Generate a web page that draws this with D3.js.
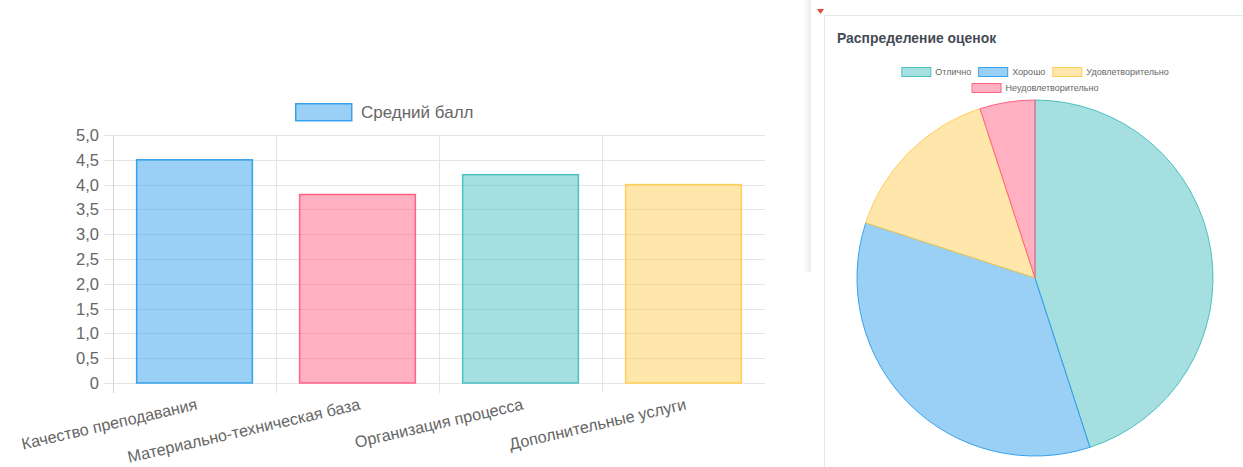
<!DOCTYPE html>
<html>
<head>
<meta charset="utf-8">
<script src="https://cdn.jsdelivr.net/npm/d3@7"></script>
<style>
  html, body { margin: 0; padding: 0; background: #fff; }
  svg { display: block; }
  text { font-family: "Liberation Sans", Arial, sans-serif; }
</style>
</head>
<body>
<div id="chart"></div>
<script>
// bar chart data
const categories = ['Качество преподавания', 'Материально-техническая база', 'Организация процесса', 'Дополнительные услуги'];
const avgScores = [4.5, 3.8, 4.2, 4.0];
const yTicks = [0, 0.5, 1, 1.5, 2, 2.5, 3, 3.5, 4, 4.5, 5];
const barSeriesName = 'Средний балл';

// pie chart data
const grades = ['Отлично', 'Хорошо', 'Удовлетворительно', 'Неудовлетворительно'];
const gradeShares = [45, 35, 15, 5];
const pieTitle = 'Распределение оценок';

const colors = {
  blue: 'rgb(54,162,235)', pink: 'rgb(255,99,132)',
  teal: 'rgb(75,192,192)', yellow: 'rgb(255,206,86)'
};
const barColors = [colors.blue, colors.pink, colors.teal, colors.yellow];
const pieColors = [colors.teal, colors.blue, colors.yellow, colors.pink];
const fade = c => c.replace('rgb', 'rgba').replace(')', ',0.5)');

const width = 1243, height = 467;
const svg = d3.select('#chart').append('svg')
  .attr('width', width).attr('height', height);

// ---------- bar chart ----------
const margin = { top: 135, right: 478, bottom: 84, left: 113 };

const x = d3.scaleBand()
  .domain(categories)
  .range([margin.left, width - margin.right]);

const y = d3.scaleLinear()
  .domain([0, 5])
  .range([height - margin.bottom, margin.top]);

const grid = svg.append('g');
// horizontal grid + left ticks
grid.selectAll('line.h')
  .data(yTicks)
  .join('line')
  .attr('x1', margin.left - 9).attr('x2', width - margin.right)
  .attr('y1', d => Math.round(y(d)) + 0.5).attr('y2', d => Math.round(y(d)) + 0.5)
  .attr('stroke', '#e5e5e5');

// vertical grid lines between categories
grid.selectAll('line.v')
  .data(categories)
  .join('line')
  .attr('x1', d => Math.round(x(d)) + 0.5).attr('x2', d => Math.round(x(d)) + 0.5)
  .attr('y1', margin.top).attr('y2', y(0) + 10)
  .attr('stroke', (d, i) => i === 0 ? '#d4d4d4' : '#e5e5e5');

svg.append('g')
  .selectAll('text')
  .data(yTicks)
  .join('text')
  .attr('x', margin.left - 14)
  .attr('y', d => y(d))
  .attr('dy', '0.36em')
  .attr('text-anchor', 'end')
  .attr('font-size', 16.5)
  .attr('fill', '#666')
  .text(d => d === 0 ? '0' : d3.format('.1f')(d).replace('.', ','));

const bw = x.bandwidth() * 0.71;
svg.append('g')
  .selectAll('rect')
  .data(avgScores)
  .join('rect')
  .attr('x', (d, i) => x(categories[i]) + (x.bandwidth() - bw) / 2)
  .attr('y', d => y(d))
  .attr('width', bw)
  .attr('height', d => y(0) - y(d))
  .attr('fill', (d, i) => fade(barColors[i]))
  .attr('stroke', (d, i) => barColors[i])
  .attr('stroke-width', 1.5);

// rotated category labels
svg.append('g')
  .selectAll('text')
  .data(categories)
  .join('text')
  .attr('transform', d => `translate(${x(d) + x.bandwidth() / 2 + 1},${y(0) + 15}) rotate(-13)`)
  .attr('dy', '0.71em')
  .attr('text-anchor', 'end')
  .attr('font-size', 16.2)
  .attr('fill', '#666')
  .text(d => d);

// legend
const lg = svg.append('g').attr('transform', 'translate(295,103)');
lg.append('rect')
  .attr('x', 0.75).attr('y', 0.75).attr('width', 56).attr('height', 17)
  .attr('fill', fade(colors.blue)).attr('stroke', colors.blue).attr('stroke-width', 1.5);
lg.append('text')
  .attr('x', 66).attr('y', 9).attr('dy', '0.36em')
  .attr('font-size', 17).attr('fill', '#666')
  .text(barSeriesName);

// ---------- left card shadow + pie card ----------
const defs = svg.append('defs');
const sg = defs.append('linearGradient').attr('id', 'sh');
sg.append('stop').attr('offset', 0).attr('stop-color', '#fff');
sg.append('stop').attr('offset', 1).attr('stop-color', '#ececec');
svg.append('rect').attr('x', 803).attr('y', 0).attr('width', 8).attr('height', 272).attr('fill', 'url(#sh)');

svg.append('rect')
  .attr('x', 824.5).attr('y', 15.5).attr('width', 460).attr('height', 470)
  .attr('fill', '#fff').attr('stroke', '#e3e6ec');

svg.append('path')
  .attr('d', 'M817,9 L824,9 L820.5,14 Z')
  .attr('fill', '#e74a3b');

svg.append('text')
  .attr('x', 837).attr('y', 43)
  .attr('font-family', '"Open Sans", sans-serif')
  .attr('font-weight', 600)
  .attr('font-size', 13.9)
  .attr('fill', '#454b55')
  .text(pieTitle);

// pie
const cx = 1035, cy = 278, r = 178;
const pie = d3.pie().sort(null).value(d => d);
const arc = d3.arc().innerRadius(0).outerRadius(r);
svg.append('g')
  .attr('transform', `translate(${cx},${cy})`)
  .selectAll('path')
  .data(pie(gradeShares))
  .join('path')
  .attr('d', arc)
  .attr('fill', (d, i) => fade(pieColors[i]))
  .attr('stroke', (d, i) => pieColors[i])
  .attr('stroke-width', 1);

// pie legend (two rows, centered)
const rows = [[0, 1, 2], [3]];
const pl = svg.append('g');
rows.forEach((row, ri) => {
  const g = pl.append('g');
  let off = 0;
  row.forEach(i => {
    const it = g.append('g').attr('transform', `translate(${off},0)`);
    it.append('rect')
      .attr('x', 0.5).attr('y', 0.5).attr('width', 29).attr('height', 9)
      .attr('fill', fade(pieColors[i])).attr('stroke', pieColors[i]);
    const t = it.append('text')
      .attr('x', 34).attr('y', 5).attr('dy', '0.36em')
      .attr('font-size', 9).attr('fill', '#666')
      .text(grades[i]);
    off += 34 + t.node().getComputedTextLength() + 7;
  });
  const w = off - 7;
  g.attr('transform', `translate(${cx - w / 2},${67 + ri * 16})`);
});
</script>
</body>
</html>
